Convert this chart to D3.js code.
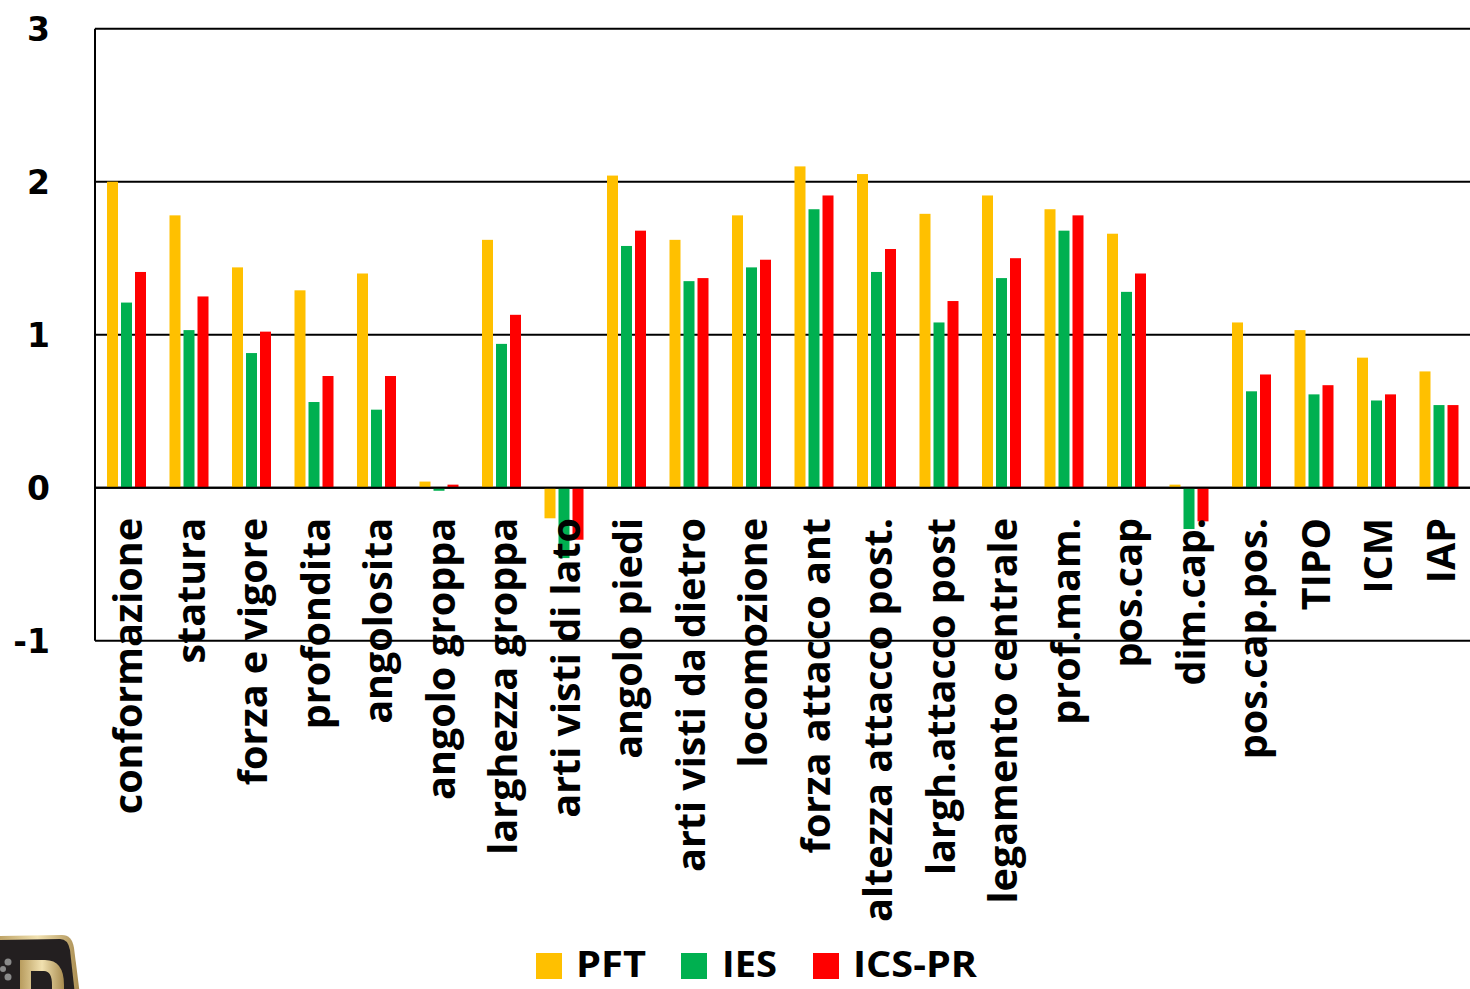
<!DOCTYPE html>
<html>
<head>
<meta charset="utf-8">
<script src="https://cdn.jsdelivr.net/npm/d3@7"></script>
<style>
html,body{margin:0;padding:0;background:#fff;}
svg{display:block;}
</style>
</head>
<body>
<svg id="chart" width="1470" height="989"></svg>
<script>
const categories = ["conformazione","statura","forza e vigore","profondita","angolosita","angolo groppa","larghezza groppa","arti visti di lato","angolo piedi","arti visti da dietro","locomozione","forza attacco ant","altezza attacco post.","largh.attacco post","legamento centrale","prof.mam.","pos.cap","dim.cap.","pos.cap.pos.","TIPO","ICM","IAP"];
const seriesNames = ["PFT","IES","ICS-PR"];
const PFT   = [2.00,1.78,1.44,1.29,1.40,0.04,1.62,-0.20,2.04,1.62,1.78,2.10,2.05,1.79,1.91,1.82,1.66,0.02,1.08,1.03,0.85,0.76];
const IES   = [1.21,1.03,0.88,0.56,0.51,-0.02,0.94,-0.46,1.58,1.35,1.44,1.82,1.41,1.08,1.37,1.68,1.28,-0.27,0.63,0.61,0.57,0.54];
const ICSPR = [1.41,1.25,1.02,0.73,0.73,0.02,1.13,-0.34,1.68,1.37,1.49,1.91,1.56,1.22,1.50,1.78,1.40,-0.22,0.74,0.67,0.61,0.54];
const yTicks = [-1,0,1,2,3];
const colors = ["#FFC000","#00B050","#FF0000"];

const seriesValues = [PFT, IES, ICSPR];
const svg = d3.select("#chart");
const mLeft = 95, mRight = 1470, mTop = 28.7, mBottom = 640.7;

const x = d3.scaleBand().domain(categories).range([mLeft, mRight]).paddingInner(0).paddingOuter(0);
const xs = d3.scaleBand().domain(seriesNames).range([12, 51]).paddingInner(3/14).paddingOuter(0);
const y = d3.scaleLinear().domain([-1, 3]).range([mBottom, mTop]);

// gridlines
svg.append("g").selectAll("line").data(yTicks).join("line")
  .attr("x1", mLeft).attr("x2", mRight + 5)
  .attr("y1", d => y(d)).attr("y2", d => y(d))
  .attr("stroke", "#000").attr("stroke-width", 2);
svg.append("line").attr("x1", mLeft).attr("x2", mLeft).attr("y1", y(3)).attr("y2", y(-1))
  .attr("stroke", "#000").attr("stroke-width", 2);

// bars
const rows = [];
categories.forEach((c, i) => seriesNames.forEach((s, j) => rows.push({c, s, j, v: seriesValues[j][i]})));
svg.append("g").selectAll("rect").data(rows).join("rect")
  .attr("x", d => x(d.c) + xs(d.s))
  .attr("width", xs.bandwidth())
  .attr("y", d => y(Math.max(0, d.v)))
  .attr("height", d => Math.abs(y(d.v) - y(0)))
  .attr("fill", d => colors[d.j]);

// redraw zero line on top
svg.append("line").attr("x1", mLeft).attr("x2", mRight + 5).attr("y1", y(0)).attr("y2", y(0))
  .attr("stroke", "#000").attr("stroke-width", 2);

// y tick labels
svg.append("g").selectAll("text").data(yTicks).join("text")
  .attr("x", 50).attr("y", d => y(d)).attr("dy", "0.36em")
  .attr("text-anchor", "end")
  .attr("font-family", "DejaVu Sans").attr("font-weight", "bold").attr("font-size", 33)
  .text(d => d);

// category labels
svg.append("g").selectAll("text").data(categories).join("text")
  .attr("transform", d => `translate(${x(d) + x.bandwidth()/2},518) rotate(-90)`)
  .attr("dy", "0.4em")
  .attr("text-anchor", "end")
  .attr("font-family", "Open Sans").attr("font-weight", "bold").attr("font-size", 39.5)
  .attr("fill", "#000")
  .text(d => d);

// legend
const legendItems = [
  {name: seriesNames[0], sx: 536, tx: 576, tw: 70},
  {name: seriesNames[1], sx: 681, tx: 722, tw: 55},
  {name: seriesNames[2], sx: 813, tx: 853, tw: 124}
];
const lg = svg.append("g");
legendItems.forEach((d, i) => {
  lg.append("rect").attr("x", d.sx).attr("y", 953).attr("width", 26).attr("height", 26).attr("fill", colors[i]);
  lg.append("text").attr("x", d.tx).attr("y", 977)
    .attr("font-family", "Open Sans").attr("font-weight", "bold").attr("font-size", 35)
    .attr("textLength", d.tw).attr("lengthAdjust", "spacingAndGlyphs")
    .text(d.name);
});

// logo fragment bottom-left
const logo = svg.append("g");
const grad = svg.append("defs").append("linearGradient").attr("id", "gold").attr("x1", "0").attr("x2", "1");
grad.append("stop").attr("offset", "0").attr("stop-color", "#b89c5e");
grad.append("stop").attr("offset", "0.5").attr("stop-color", "#f1e1b0");
grad.append("stop").attr("offset", "1").attr("stop-color", "#a88b4f");
logo.append("path").attr("d", "M-5,936 L62,935 Q72,935 74,948 L80,995 L-5,995 Z")
  .attr("fill", "url(#gold)");
logo.append("path").attr("d", "M-5,940 L60,939 Q68,939 70,950 L75,995 L-5,995 Z")
  .attr("fill", "#231f20");
[962, 977].forEach(cy => logo.append("circle").attr("cx", 8).attr("cy", cy).attr("r", 3.5).attr("fill", "#8a8a8a"));
[969].forEach(cy => logo.append("circle").attr("cx", 3).attr("cy", cy).attr("r", 3).attr("fill", "#8a8a8a"));
logo.append("path").attr("d", "M20,960 L45,960 Q64,960 64,985 L64,995 L52,995 L52,985 Q52,971 44,971 L31,971 L31,995 L20,995 Z")
  .attr("fill", "url(#gold)");
</script>
</body>
</html>
